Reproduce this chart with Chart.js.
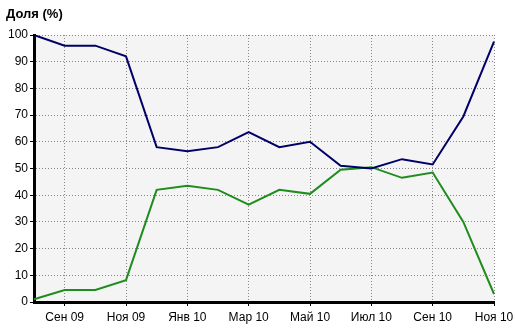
<!DOCTYPE html>
<html><head><meta charset="utf-8">
<script src="https://cdn.jsdelivr.net/npm/chart.js@4/dist/chart.umd.min.js"></script>
<style>html,body{margin:0;padding:0;background:#fff}#wrap{width:515px;height:332px}</style>
</head><body><div id="wrap"><canvas id="c" width="515" height="332"></canvas></div>
<script>
const months = ['Авг 09','Сен 09','Окт 09','Ноя 09','Дек 09','Янв 10','Фев 10','Мар 10','Апр 10','Май 10','Июн 10','Июл 10','Авг 10','Сен 10','Окт 10','Ноя 10'];
const seriesBlue = [100, 96, 96, 92, 58, 56.5, 58, 63.6, 58, 60, 51, 50, 53.5, 51.5, 69.5, 97.5];
const seriesGreen = [1, 4.5, 4.5, 8.2, 42, 43.5, 42, 36.5, 42, 40.5, 49.5, 50.5, 46.5, 48.5, 30, 3];
const yTicks = [0,10,20,30,40,50,60,70,80,90,100];
const titleText = 'Доля (%)';

const bgPlugin = {
  id: 'bg',
  beforeDraw(chart) {
    const a = chart.chartArea, ctx = chart.ctx;
    ctx.save(); ctx.fillStyle = '#f4f4f4';
    ctx.fillRect(a.left, a.top, a.right - a.left, a.bottom - a.top);
    ctx.restore();
  },
  afterDraw(chart) {
    const ctx = chart.ctx;
    ctx.save();
    ctx.fillStyle = '#000';
    ctx.font = 'bold 13px "Liberation Sans", Arial, sans-serif';
    ctx.textBaseline = 'alphabetic';
    ctx.fillText(titleText, 6, 18);
    ctx.restore();
  }
};

Chart.defaults.font.family = '"Liberation Sans", Arial, sans-serif';
Chart.defaults.font.size = 12;
Chart.defaults.color = '#000';

new Chart(document.getElementById('c'), {
  type: 'line',
  data: {
    labels: months,
    datasets: [
      { data: seriesBlue, borderColor: '#000066', borderWidth: 2, pointRadius: 0, tension: 0, fill: false },
      { data: seriesGreen, borderColor: '#1f8c1f', borderWidth: 2, pointRadius: 0, tension: 0, fill: false }
    ]
  },
  options: {
    responsive: false,
    animation: false,
    events: [],
    layout: { padding: { top: 35, right: 21, left: 0, bottom: 0 } },
    plugins: { legend: { display: false }, tooltip: { enabled: false }, title: { display: false } },
    scales: {
      x: {
        type: 'category',
        offset: false,
        afterFit(s) { s.height = 30; s.paddingRight = 0; s.paddingLeft = 0; },
        grid: {
          color: (c) => (c.index % 2 === 1 ? '#888' : 'transparent'),
          tickColor: (c) => (c.index % 2 === 1 ? '#000' : 'transparent'),
          tickLength: 4,
          lineWidth: 1
        },
        border: { display: true, color: '#000', width: 3, dash: [1, 2] },
        ticks: {
          autoSkip: false, maxRotation: 0, padding: 4,
          callback: function (v, i) { return i % 2 === 1 ? months[i] : ''; }
        }
      },
      y: {
        min: 0, max: 100,
        afterFit(s) { s.width = 34; s.paddingTop = 0; s.paddingBottom = 0; },
        afterBuildTicks(s) { s.ticks = yTicks.map(v => ({ value: v })); },
        grid: { color: '#888', tickColor: '#000', tickLength: 4, lineWidth: 1 },
        border: { display: true, color: '#000', width: 3, dash: [1, 2] },
        ticks: { padding: 2 }
      }
    }
  },
  plugins: [bgPlugin]
});
</script></body></html>
